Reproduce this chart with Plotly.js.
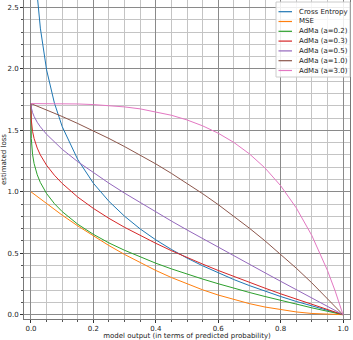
<!DOCTYPE html>
<html><head><meta charset="utf-8">
<script src="https://cdn.plot.ly/plotly-3.0.1.min.js"></script>
<style>html,body{margin:0;padding:0;background:#fff}#chart{width:353px;height:340px}</style>
</head><body><div id="chart"></div>
<script>
const seriesNames = ["Cross Entropy","MSE","AdMa (a=0.2)","AdMa (a=0.3)","AdMa (a=0.5)","AdMa (a=1.0)","AdMa (a=3.0)"];
const colors = ["#1f77b4","#ff7f0e","#2ca02c","#d62728","#9467bd","#8c564b","#e377c2"];

const xCE = [0.015,0.02,0.03,0.05,0.075,0.1,0.15,0.2,0.25,0.3,0.35,0.4,0.45,0.5,0.55,0.6,0.65,0.7,0.75,0.8,0.85,0.9,0.95,1.0];
const yCE = [2.793,2.601,2.332,1.992,1.723,1.531,1.262,1.070,0.922,0.801,0.698,0.609,0.531,0.461,0.398,0.340,0.286,0.237,0.191,0.148,0.108,0.070,0.034,0];

const xMSE = [0,0.05,0.1,0.15,0.2,0.25,0.3,0.35,0.4,0.45,0.5,0.55,0.6,0.65,0.7,0.75,0.8,0.85,0.9,0.95,1.0];
const yMSE = [1,0.9025,0.81,0.7225,0.64,0.5625,0.49,0.4225,0.36,0.3025,0.25,0.2025,0.16,0.1225,0.09,0.0625,0.04,0.0225,0.01,0.0025,0];

const xFine = [0,0.001,0.005,0.01,0.02,0.03,0.05,0.075,0.1,0.15,0.2,0.25,0.3,0.35,0.4,0.45,0.5,0.55,0.6,0.65,0.7,0.75,0.8,0.85,0.9,0.95,1.0];
const yA02 = [1.718,1.433,1.304,1.229,1.139,1.076,0.986,0.904,0.839,0.736,0.654,0.584,0.524,0.469,0.419,0.373,0.330,0.290,0.252,0.215,0.181,0.148,0.116,0.086,0.056,0.028,0];
const yA03 = [1.718,1.584,1.492,1.433,1.356,1.300,1.216,1.135,1.068,0.957,0.865,0.784,0.711,0.644,0.581,0.521,0.465,0.412,0.360,0.310,0.262,0.216,0.170,0.126,0.083,0.041,0];
const yA05 = [1.718,1.686,1.645,1.613,1.566,1.529,1.468,1.403,1.346,1.245,1.154,1.070,0.989,0.911,0.836,0.762,0.690,0.619,0.549,0.479,0.410,0.341,0.272,0.204,0.136,0.068,0];

const xCoarse = [0,0.05,0.1,0.15,0.2,0.25,0.3,0.35,0.4,0.45,0.5,0.55,0.6,0.65,0.7,0.75,0.8,0.85,0.9,0.95,0.975,1.0];
const yA10 = [1.718,1.667,1.613,1.556,1.497,1.434,1.368,1.299,1.227,1.150,1.070,0.985,0.896,0.803,0.704,0.601,0.493,0.379,0.259,0.133,0.067,0];
const yA30 = [1.718,1.718,1.717,1.715,1.710,1.703,1.691,1.675,1.652,1.623,1.585,1.537,1.477,1.402,1.309,1.194,1.050,0.870,0.645,0.361,0.192,0];

const xs = [xCE,xMSE,xFine,xFine,xFine,xCoarse,xCoarse];
const ys = [yCE,yMSE,yA02,yA03,yA05,yA10,yA30];

const xTickVals = [0,0.2,0.4,0.6,0.8,1.0];
const yTickVals = [0,0.5,1.0,1.5,2.0,2.5];

const traces = seriesNames.map((n,i)=>({
  x: xs[i], y: ys[i], name: n, type:'scatter', mode:'lines',
  line:{color:colors[i], width:1}
}));

// compact legend (matplotlib-like) drawn with shapes + annotations in paper coordinates
const W = 353, H = 340, mL = 24, mR = 3, mT = 0, mB = 21;
const pw = W - mL - mR, ph = H - mT - mB;
const px = v => (v - mL) / pw;
const py = v => 1 - (v - mT) / ph;
const shapes = [{type:'rect', xref:'paper', yref:'paper', x0:px(276), x1:px(350), y0:py(77), y1:py(2),
  line:{color:'#cccccc', width:1}, fillcolor:'rgba(255,255,255,0.85)', layer:'above'}];
const annotations = [];
seriesNames.forEach((n,i)=>{
  const yy = 11.7 + i*9.8;
  shapes.push({type:'line', xref:'paper', yref:'paper', x0:px(278.5), x1:px(292), y0:py(yy), y1:py(yy),
    line:{color:colors[i], width:1.2}, layer:'above'});
  annotations.push({xref:'paper', yref:'paper', x:px(296.5), y:py(yy), xanchor:'left', yanchor:'middle',
    text:n, showarrow:false, font:{family:'DejaVu Sans', size:7, color:'#222'}});
});

const font = {family:'DejaVu Sans', size:7, color:'#222'};
const layout = {
  width:W, height:H,
  margin:{l:mL, r:mR, t:mT, b:mB},
  paper_bgcolor:'#fff', plot_bgcolor:'#fff',
  font: font,
  showlegend:false,
  shapes: shapes,
  annotations: annotations,
  xaxis:{range:[-0.0224,1.0224], tickvals:xTickVals, tickformat:'.1f', ticks:'outside', ticklen:3,
         tickcolor:'#333', gridcolor:'#8a8a8a', gridwidth:1, zeroline:false,
         showline:true, linecolor:'#777', mirror:true,
         minor:{dtick:0.05, showgrid:true, gridcolor:'#c4c4c4', ticks:'outside', ticklen:2, tickcolor:'#555'},
         title:{text:'model output (in terms of predicted probability)', font:font, standoff:2}},
  yaxis:{range:[-0.035,2.561], tickvals:yTickVals, tickformat:'.1f', ticks:'outside', ticklen:3,
         tickcolor:'#333', gridcolor:'#8a8a8a', gridwidth:1, zeroline:false,
         showline:true, linecolor:'#777', mirror:true,
         minor:{dtick:0.1, showgrid:true, gridcolor:'#c4c4c4', ticks:'outside', ticklen:2, tickcolor:'#555'},
         title:{text:'estimated loss', font:font, standoff:2}}
};
Plotly.newPlot('chart', traces, layout, {displayModeBar:false, staticPlot:true});
</script></body></html>
